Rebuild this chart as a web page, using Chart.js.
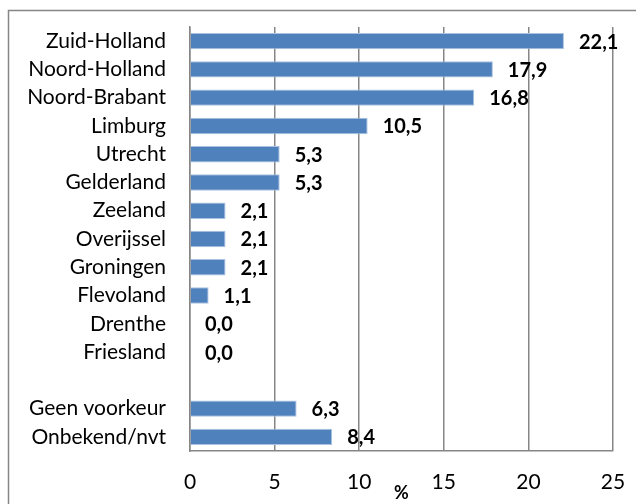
<!DOCTYPE html>
<html>
<head>
<meta charset="utf-8">
<script src="https://cdn.jsdelivr.net/npm/chart.js@4"></script>
<style>
  html, body { margin: 0; padding: 0; background: #fff; }
  #wrap { width: 636px; height: 504px; }
</style>
</head>
<body>
<div id="wrap"><canvas id="chart" width="636" height="504"></canvas></div>
<script>
'use strict';

const provinces = [
  'Zuid-Holland', 'Noord-Holland', 'Noord-Brabant', 'Limburg', 'Utrecht',
  'Gelderland', 'Zeeland', 'Overijssel', 'Groningen', 'Flevoland',
  'Drenthe', 'Friesland', '', 'Geen voorkeur', 'Onbekend/nvt'
];
const percentages = [
  22.1, 17.9, 16.8, 10.5, 5.3,
  5.3, 2.1, 2.1, 2.1, 1.1,
  0.0, 0.0, null, 6.3, 8.4
];
const xTicks = [0, 5, 10, 15, 20, 25];

const FONT = 'Lato, "Open Sans", sans-serif';

// Outer frame of the chart object (runs off the right/bottom edge)
const framePlugin = {
  id: 'frame',
  beforeDraw(chart) {
    const c = chart.ctx;
    c.save();
    c.strokeStyle = '#868686';
    c.lineWidth = 1.5;
    c.strokeRect(8.5, 10.5, 640, 510);
    c.restore();
  }
};

// Value labels right of every bar, comma as decimal mark
const valueLabels = {
  id: 'valueLabels',
  afterDatasetsDraw(chart) {
    const c = chart.ctx;
    const meta = chart.getDatasetMeta(0);
    c.save();
    c.font = 'bold 20px ' + FONT;
    c.fillStyle = '#000';
    c.textAlign = 'left';
    c.textBaseline = 'middle';
    meta.data.forEach((bar, i) => {
      const v = percentages[i];
      if (v === null) return;
      c.fillText(v.toFixed(1).replace('.', ','), bar.x + 15, bar.y + 1);
    });
    c.restore();
  }
};

new Chart(document.getElementById('chart'), {
  type: 'bar',
  plugins: [framePlugin, valueLabels],
  data: {
    labels: provinces,
    datasets: [{
      data: percentages,
      backgroundColor: '#4F81BD',
      borderColor: '#A9C2E0',
      borderWidth: 1,
      barPercentage: 0.58,
      categoryPercentage: 1.0,
    }]
  },
  options: {
    indexAxis: 'y',
    responsive: false,
    animation: false,
    layout: { padding: { top: 27, right: 23, left: 0, bottom: 0 } },
    plugins: {
      legend: { display: false },
      tooltip: { enabled: false }
    },
    scales: {
      x: {
        min: 0,
        max: 25,
        afterBuildTicks(scale) {
          scale.ticks = xTicks.map(v => ({ value: v }));
        },
        afterFit(scale) {
          scale.height = 53;
          scale.paddingLeft = 0;
          scale.paddingRight = 0;
        },
        grid: { color: '#868686', lineWidth: 1.5, drawTicks: false },
        border: { color: '#868686', width: 1.5 },
        ticks: {
          color: '#000',
          padding: 19,
          font: { family: FONT, size: 21 }
        },
        title: {
          display: true,
          text: '%',
          color: '#000',
          padding: { top: -8, bottom: 0 },
          font: { family: FONT, size: 18, weight: 'bold' }
        }
      },
      y: {
        afterFit(scale) {
          scale.width = 190;
          scale.paddingTop = 0;
          scale.paddingBottom = 0;
        },
        grid: { display: false, drawTicks: false },
        border: { color: '#868686', width: 1.5 },
        ticks: {
          color: '#000',
          padding: 24,
          autoSkip: false,
          font: { family: FONT, size: 21 }
        }
      }
    }
  }
});
</script>
</body>
</html>
